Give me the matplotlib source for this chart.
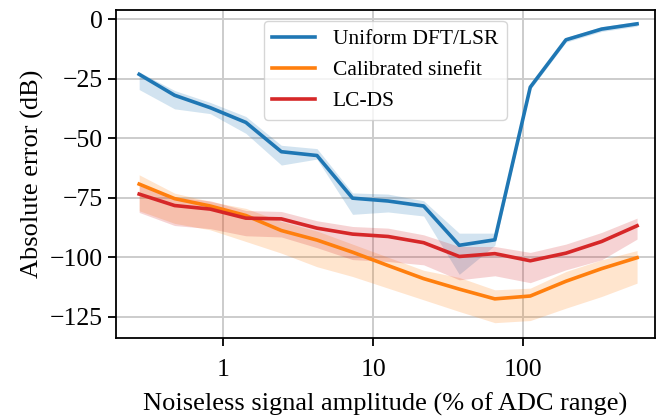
import numpy as np
import matplotlib
matplotlib.use("Agg")
import matplotlib.pyplot as plt
from matplotlib.ticker import FixedLocator, NullLocator

# Data
amplitude = [0.274, 0.472, 0.815, 1.41, 2.43, 4.20, 7.25, 12.5, 21.6, 37.3, 64.4, 111, 192, 332, 572]

uniform = [-23.2, -32.0, -37.2, -43.4, -55.7, -57.3, -75.2, -76.4, -78.5, -95.0, -92.7, -28.6, -8.7, -4.2, -2.0]
uniform_lo = [-29.6, -37.7, -39.7, -48.0, -61.3, -58.8, -82.0, -81.0, -82.7, -107.2, -95.0, -29.6, -9.7, -5.2, -3.0]
uniform_hi = [-22.2, -30.0, -35.0, -40.9, -53.0, -54.4, -73.0, -73.5, -76.3, -89.9, -89.9, -27.6, -7.7, -3.2, -1.0]

sinefit = [-69.3, -75.4, -78.5, -82.5, -88.8, -92.8, -97.9, -103.5, -109.0, -113.4, -117.5, -116.3, -110.1, -104.8, -100.2]
sinefit_lo = [-80.5, -85.8, -88.5, -93.4, -98.3, -104.0, -108.1, -113.0, -117.9, -122.8, -127.5, -126.6, -121.4, -116.5, -110.9]
sinefit_hi = [-65.4, -73.1, -76.6, -79.5, -85.0, -89.0, -94.5, -100.0, -105.5, -108.5, -113.7, -113.0, -106.0, -101.1, -97.2]

lcds = [-73.5, -78.3, -79.8, -83.6, -83.9, -87.8, -90.3, -91.3, -93.9, -99.7, -98.5, -101.5, -98.3, -93.4, -86.8]
lcds_lo = [-81.2, -86.7, -88.0, -91.0, -91.5, -96.0, -101.0, -101.8, -103.2, -109.5, -107.8, -110.7, -105.3, -101.1, -92.4]
lcds_hi = [-70.0, -74.8, -76.3, -80.4, -80.8, -84.7, -87.1, -87.8, -90.6, -95.5, -95.5, -98.0, -94.5, -89.6, -83.6]

xticks = [1, 10, 100]
xticklabels = ["1", "10", "100"]
yticks = [0, -25, -50, -75, -100, -125]

plt.rcParams["font.family"] = ["Liberation Serif", "DejaVu Serif"]
plt.rcParams["font.size"] = 18.5
plt.rcParams["axes.linewidth"] = 1.3

fig = plt.figure(figsize=(6.58, 4.18), dpi=100)
ax = fig.add_axes([0.176, 0.191, 0.819, 0.785])

series = [
    ("Uniform DFT/LSR", uniform, uniform_lo, uniform_hi, "tab:blue"),
    ("Calibrated sinefit", sinefit, sinefit_lo, sinefit_hi, "tab:orange"),
    ("LC-DS", lcds, lcds_lo, lcds_hi, "tab:red"),
]
for label, y, lo, hi, col in series:
    ax.fill_between(amplitude, lo, hi, color=col, alpha=0.2, linewidth=0)
    ax.plot(amplitude, y, color=col, linewidth=2.6, label=label)

ax.set_xscale("log")
ax.set_xlim(10 ** -0.718, 10 ** 2.875)
ax.set_ylim(-134, 3.8)
ax.xaxis.set_major_locator(FixedLocator(xticks))
ax.set_xticklabels(xticklabels)
ax.xaxis.set_minor_locator(NullLocator())
ax.set_yticks(yticks)
ax.set_yticklabels(["\u2212" + str(-v) if v < 0 else str(v) for v in yticks])
ax.tick_params(width=1.3, length=6)
ax.tick_params(axis="x", pad=9)

ax.grid(True, color="#cccccc", linewidth=1.4)
ax.set_axisbelow(True)

ax.set_xlabel("Noiseless signal amplitude (% of ADC range)", fontsize=19, labelpad=8)
ax.set_ylabel("Absolute error (dB)", fontsize=19)
ax.legend(loc="upper center", fontsize=15.5)

fig.savefig("out.png", dpi=100)
